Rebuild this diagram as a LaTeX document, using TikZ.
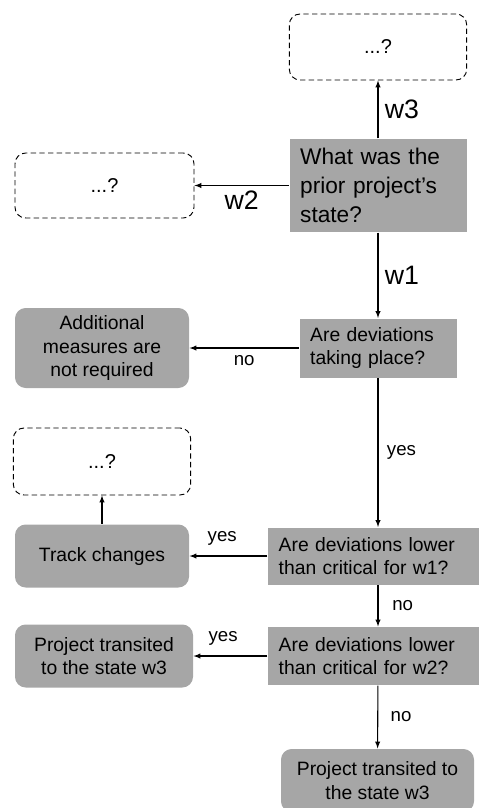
\documentclass[tikz,border=0pt]{standalone}
\usepackage{fontspec}
\setmainfont{Liberation Sans}
\definecolor{boxgray}{HTML}{A6A6A6}

\begin{document}
\begin{tikzpicture}[x=0.75pt,y=-0.75pt,->,>=latex,line width=0.8pt,
  ask/.style={fill=boxgray,align=left,inner xsep=8pt,font=\fontsize{14.5}{17.5}\selectfont},
  act/.style={fill=boxgray,rounded corners=8pt,align=center,font=\fontsize{14.5}{17.5}\selectfont},
  unk/.style={draw,dashed,dash pattern=on 4pt off 2.5pt,line width=0.7pt,rounded corners=8pt,
    minimum width=133pt,minimum height=49.5pt,font=\fontsize{15}{18}\selectfont},
  lbl/.style={font=\fontsize{14}{16}\selectfont},
  wlbl/.style={font=\fontsize{20}{24}\selectfont}]
\useasboundingbox (0,0) rectangle (479,808);
\clip (0,0) rectangle (479,808);
\node[unk] (q3) at (378,47) {...?};
\node[ask,text width=116.75pt,minimum height=69.75pt,font=\fontsize{17}{21.75}\selectfont] (start) at (378,185.5)
  {What was the\\prior project’s\\state?};
\node[unk,minimum width=134.25pt,minimum height=48.75pt] (q2) at (104.5,185.5) {...?};
\node[ask,text width=101.75pt,minimum height=44.25pt] (dev) at (378,348) {Are deviations\\taking place?};
\node[act,minimum width=130.5pt,minimum height=60pt] (none) at (102,348) {Additional\\measures are\\not required};
\node[unk,minimum height=50.25pt] (q1) at (102,461.5) {...?};
\node[act,minimum width=130.5pt,minimum height=47.25pt] (track) at (102,556) {Track changes};
\node[ask,text width=149pt,minimum height=42.75pt] (crit1) at (378,556) {Are deviations lower\\than critical for w1?};
\node[ask,text width=149pt,minimum height=43.5pt] (crit2) at (378,656) {Are deviations lower\\than critical for w2?};
\node[act,minimum width=133.5pt,minimum height=47.25pt] (w3a) at (104,656) {Project transited\\to the state w3};
\node[act,minimum width=144.75pt,minimum height=47.25pt] (w3b) at (377.5,780.5) {Project transited to\\the state w3};
\draw (start) -- (q3) node[midway,right=1.5pt,wlbl] {w3};
\draw (start) -- (q2) node[midway,below,wlbl] {w2};
\draw (start) -- (dev) node[midway,right=1.5pt,wlbl] {w1};
\draw (dev) -- (none) node[midway,below=2pt,lbl] {no};
\draw (dev) -- (crit1) node[midway,right=3pt,lbl] {yes};
\draw (track) -- (q1);
\draw (crit1) -- (track) node[pos=0.58,above=4pt,lbl] {yes};
\draw (crit1) -- (crit2) node[midway,right=7pt,lbl] {no};
\draw (crit2) -- (w3a) node[pos=0.6,above=4pt,lbl] {yes};
\draw (crit2) -- (w3b) node[midway,right=6pt,lbl] {no};
\end{tikzpicture}
\end{document}
